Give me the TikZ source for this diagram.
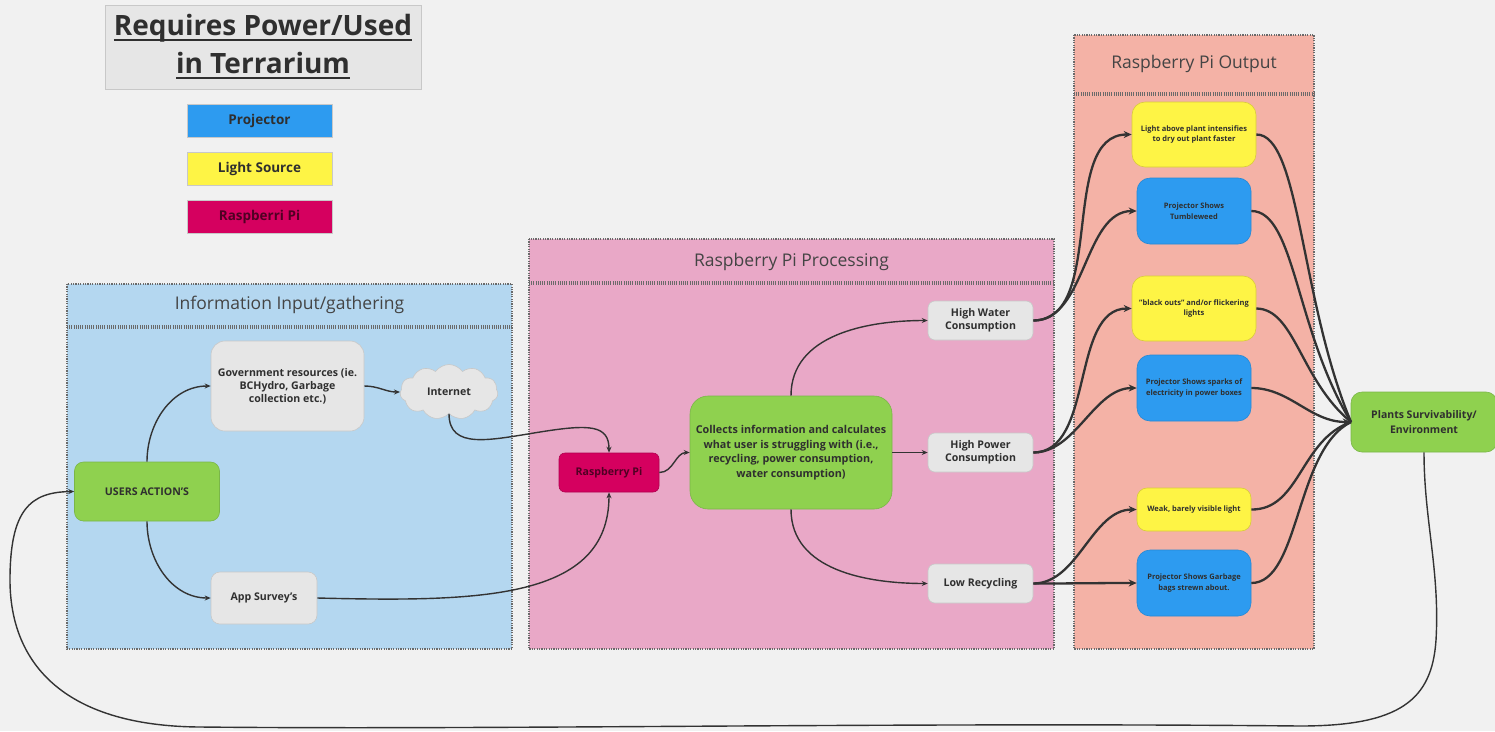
\documentclass[tikz,border=0pt]{standalone}
\usepackage{fontspec}
\setmainfont{Open Sans}
\newcommand\ulx[1]{\setbox0\hbox{#1}\leavevmode\rlap{\rule[-5.5pt]{\wd0}{2.5pt}}\box0}
\usetikzlibrary{shapes.symbols,arrows.meta}
\definecolor{bgc}{HTML}{F1F1F1}
\definecolor{grayn}{HTML}{E6E6E6}
\definecolor{grayb}{HTML}{C8C8C8}
\definecolor{greenn}{HTML}{8FD14F}
\definecolor{greenb}{HTML}{7AB648}
\definecolor{yelln}{HTML}{FEF445}
\definecolor{yellb}{HTML}{D8CC3A}
\definecolor{bluen}{HTML}{2D9BF0}
\definecolor{blueb}{HTML}{2589D5}
\definecolor{rpin}{HTML}{D5005F}
\definecolor{rpib}{HTML}{B0004E}
\definecolor{infof}{HTML}{B4D7F0}
\definecolor{procf}{HTML}{E9A8C7}
\definecolor{outf}{HTML}{F4B2A6}
\definecolor{framel}{HTML}{6A6A6A}
\definecolor{txt}{HTML}{2F2F2F}
\definecolor{linec}{HTML}{333333}
\begin{document}
\begin{tikzpicture}[x=1pt,y=-1pt,
  every node/.style={text=txt},
  nbox/.style={rectangle, rounded corners=9pt, align=center, inner sep=2pt, font=\bfseries\fontsize{10.6}{13}\selectfont},
  grayb/.style={nbox, fill=grayn, draw=grayb, line width=0.6pt},
  greenbx/.style={nbox, fill=greenn, draw=greenb, line width=0.6pt},
  yellbx/.style={nbox, fill=yelln, draw=yellb, line width=0.6pt, font=\bfseries\fontsize{7.5}{10.5}\selectfont},
  bluebx/.style={nbox, fill=bluen, draw=blueb, line width=0.6pt, font=\bfseries\fontsize{7.5}{10.5}\selectfont},
  legend/.style={rectangle, minimum width=145pt, minimum height=33pt, draw=grayb, line width=0.6pt, font=\bfseries\fontsize{13.5}{16}\selectfont},
  frame/.style={draw=framel, line width=1.6pt, dash pattern=on 1.2pt off 1.2pt},
  hdr/.style={draw=framel, line width=3.2pt, dash pattern=on 1pt off 1.2pt},
  ftitle/.style={font=\fontsize{17.5}{21}\selectfont, text=txt!90},
  conn/.style={draw=linec, line width=1.4pt, -{Stealth[length=6pt,width=5pt]}},
  thick conn/.style={draw=linec, line width=2.3pt, -{Stealth[length=8pt,width=7pt]}},
  plain conn/.style={draw=linec, line width=2.3pt}
]
\useasboundingbox (0,0) rectangle (1495,731);
\fill[bgc] (0,0) rectangle (1495,731);

% title and legend
\node[rectangle, fill=grayn, draw=grayb, line width=1pt, minimum width=316pt, minimum height=84pt, align=center,
      font=\bfseries\fontsize{28}{38}\selectfont] (title) at (263,47) {\ulx{Requires Power/Used}\\\ulx{in Terrarium}};
\node[legend, fill=bluen] (lproj) at (259.5,120.5) {Projector};
\node[legend, fill=yelln] (llight) at (259.5,168.5) {Light Source};
\node[legend, fill=rpin, text=rpib!45!black] (lrpi) at (259.5,216.5) {Raspberri Pi};

% frames
\fill[infof] (67,284) rectangle (512,649);
\draw[frame] (67,284) rectangle (512,649);
\draw[hdr] (67,327) -- (512,327);
\node[ftitle] (t1) at (289.5,305) {Information Input/gathering};

\fill[procf] (529,239) rectangle (1054,649);
\draw[frame] (529,239) rectangle (1054,649);
\draw[hdr] (529,283) -- (1054,283);
\node[ftitle] (t2) at (791.5,262) {Raspberry Pi Processing};

\fill[outf] (1074,35) rectangle (1314,649);
\draw[frame] (1074,35) rectangle (1314,649);
\draw[hdr] (1074,94) -- (1314,94);
\node[ftitle] (t3) at (1194,64) {Raspberry Pi Output};

% nodes
\node[greenbx, minimum width=145pt, minimum height=59pt] (ua) at (147,491.5) {USERS ACTION'S};
\node[grayb, minimum width=153pt, minimum height=90pt, rounded corners=14pt] (gov) at (287.5,386) {Government resources (ie.\\BCHydro, Garbage\\collection etc.)};
\node[cloud, cloud puffs=11, cloud puff arc=110, aspect=1.8, fill=grayn, draw=grayb, line width=0.6pt, minimum width=98pt, minimum height=55pt, inner sep=0pt,
      font=\bfseries\fontsize{10.6}{13}\selectfont] (net) at (449,392) {Internet};
\node[grayb, minimum width=106pt, minimum height=52pt] (app) at (264,598) {App Survey's};
\node[nbox, fill=rpin, draw=rpib, line width=0.6pt, text=rpib!45!black, minimum width=100pt, minimum height=39pt, rounded corners=6pt] (rpi) at (609,472.5) {Raspberry Pi};
\node[greenbx, minimum width=202pt, minimum height=113pt, rounded corners=18pt, font=\bfseries\fontsize{10.8}{14.5}\selectfont] (col) at (791,452.5) {Collects information and calculates\\what user is struggling with (i.e.,\\recycling, power consumption,\\water consumption)};
\node[grayb, minimum width=105pt, minimum height=39pt, rounded corners=7pt] (hw) at (980.5,320.5) {High Water\\Consumption};
\node[grayb, minimum width=105pt, minimum height=39pt, rounded corners=7pt] (hp) at (980.5,452.5) {High Power\\Consumption};
\node[grayb, minimum width=105pt, minimum height=39pt, rounded corners=7pt] (lr) at (980.5,583.5) {Low Recycling};

\node[yellbx, minimum width=124pt, minimum height=65pt, rounded corners=13pt] (o1) at (1194,134.5) {Light above plant intensifies\\to dry out plant faster};
\node[bluebx, minimum width=114pt, minimum height=66pt, rounded corners=13pt] (o2) at (1194,211) {Projector Shows\\Tumbleweed};
\node[yellbx, minimum width=124pt, minimum height=65pt, rounded corners=13pt] (o3) at (1194,308.5) {"black outs" and/or flickering\\lights};
\node[bluebx, minimum width=114pt, minimum height=66pt, rounded corners=13pt] (o4) at (1194,388) {Projector Shows sparks of\\electricity in power boxes};
\node[yellbx, minimum width=114pt, minimum height=43pt, rounded corners=10pt] (o5) at (1194,509.5) {Weak, barely visible light};
\node[bluebx, minimum width=114pt, minimum height=66pt, rounded corners=13pt] (o6) at (1194,583) {Projector Shows Garbage\\bags strewn about.};

\node[greenbx, minimum width=146pt, minimum height=60pt, rounded corners=11pt, font=\bfseries\fontsize{10.5}{15}\selectfont] (pl) at (1424,422) {Plants Survivability/\\Environment};

% connectors
\draw[conn] (ua.north) to[out=90,in=180] (gov.west);
\draw[conn] (ua.south) to[out=-90,in=180] (app.west);
\draw[conn] (gov.east) to[out=0,in=180] (net.west);
\draw[conn] (net.south) .. controls (449,450) and (490,440) .. (540,432) .. controls (590,424) and (609,425) .. (rpi.north);
\draw[conn] (app.east) .. controls (480,602) and (609,600) .. (rpi.south);
\draw[conn] (rpi.east) to[out=0,in=180] (col.west);
\draw[conn] (col.north) to[out=90,in=180] (hw.west);
\draw[conn] (col.east) -- (hp.west);
\draw[conn] (col.south) to[out=-90,in=180] (lr.west);

\draw[thick conn] (hw.east) to[out=0,in=180,looseness=0.9] (o1.west);
\draw[thick conn] (hw.east) to[out=0,in=180,looseness=0.9] (o2.west);
\draw[thick conn] (hp.east) to[out=0,in=180,looseness=0.9] (o3.west);
\draw[thick conn] (hp.east) to[out=0,in=180,looseness=0.9] (o4.west);
\draw[thick conn] (lr.east) to[out=0,in=180,looseness=0.9] (o5.west);
\draw[thick conn] (lr.east) to[out=0,in=180] (o6.west);

\draw[plain conn] (o1.east) .. controls (1300,134) and (1300,300) .. (1351,422);
\draw[plain conn] (o2.east) .. controls (1295,211) and (1295,330) .. (1351,422);
\draw[plain conn] (o3.east) .. controls (1295,309) and (1300,380) .. (1351,422);
\draw[plain conn] (o5.east) .. controls (1300,510) and (1300,440) .. (1351,422);
\draw[plain conn] (o6.east) .. controls (1300,583) and (1295,450) .. (1351,422);
\draw[thick conn] (o4.east) .. controls (1290,388) and (1310,422) .. (pl.west);

\draw[conn] (pl.south) .. controls (1424,520) and (1440,570) .. (1436,640)
  .. controls (1432,700) and (1400,726) .. (1300,726)
  .. controls (900,722) and (500,730) .. (200,727)
  .. controls (60,726) and (10,660) .. (10,580)
  .. controls (10,510) and (30,492) .. (ua.west);
\end{tikzpicture}
\end{document}
